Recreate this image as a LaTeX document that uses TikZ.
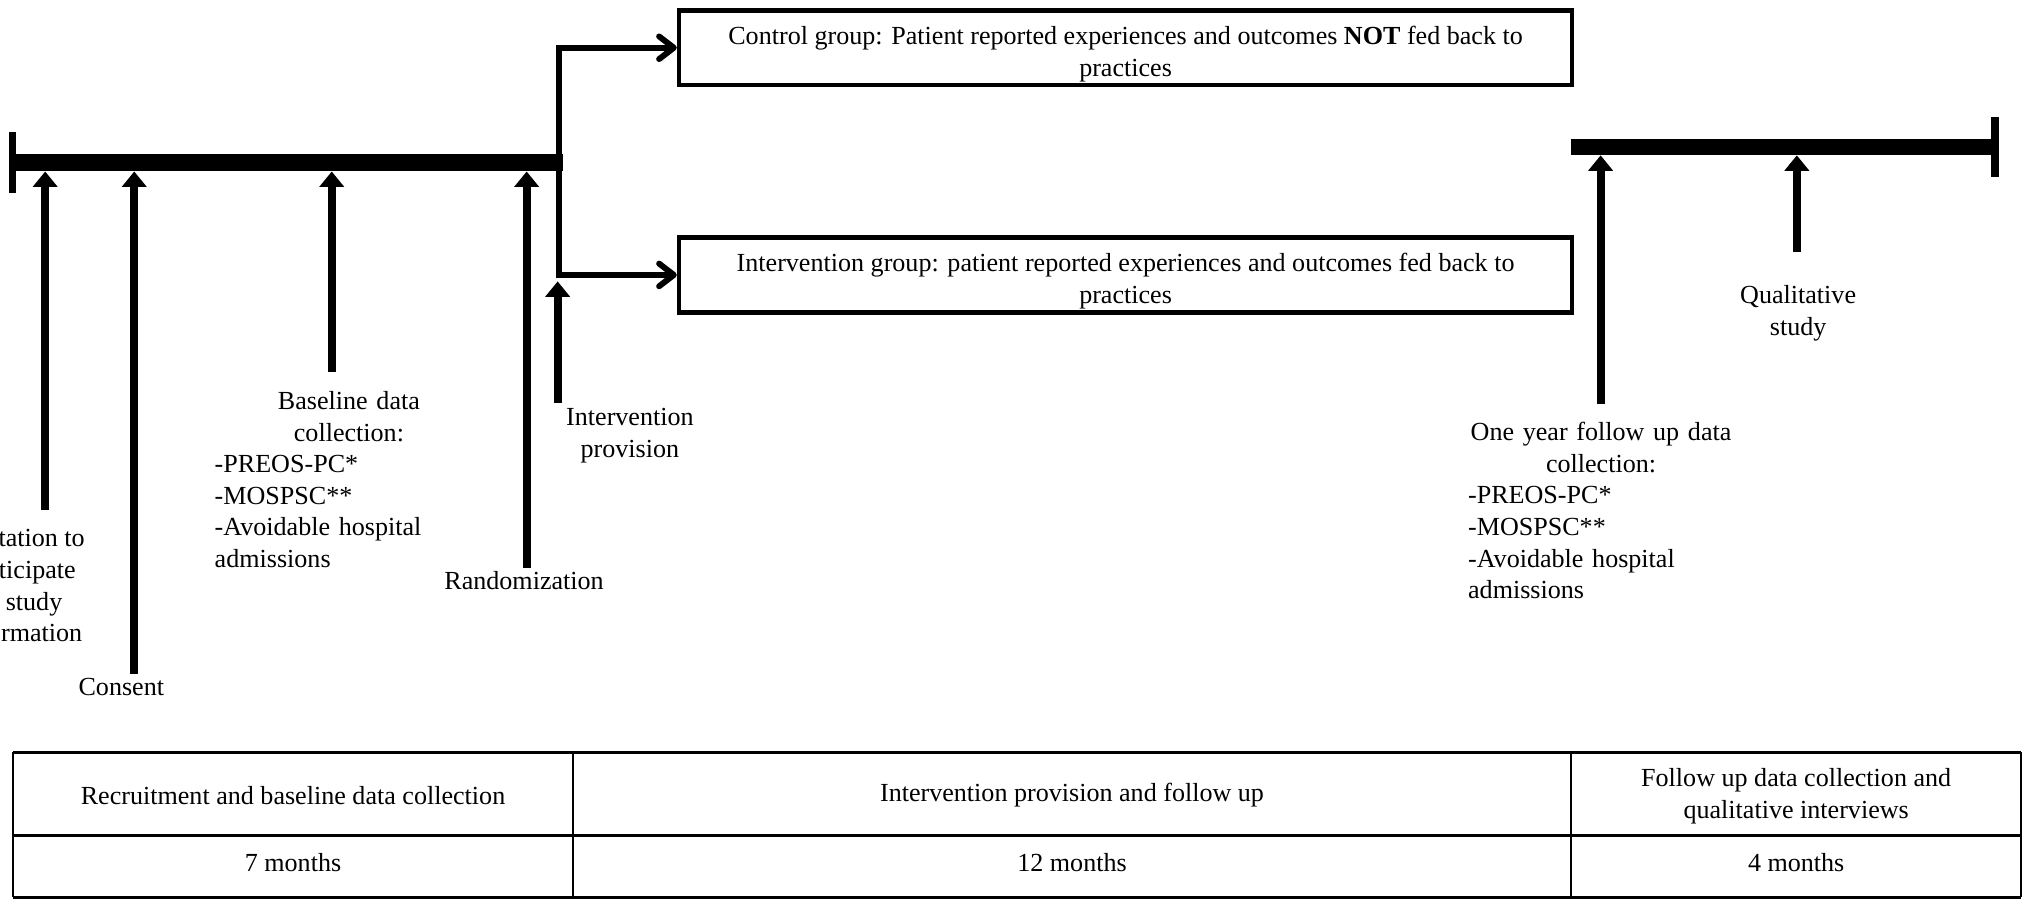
\documentclass[tikz,border=0pt]{standalone}
\usepackage{fontspec}
\setmainfont{Liberation Serif}
\usetikzlibrary{arrows.meta,positioning}

\newcommand{\toppad}{\rule{0pt}{13.5pt}}

\tikzset{
  every node/.style={font=\fontsize{11.5pt}{13.9pt}\selectfont, inner sep=0pt},
  bar/.style={fill=black, minimum height=0.26cm},
  endmark/.style={line width=3.4pt},
  evt/.style={line width=3.5pt, -{Triangle[length=6.8pt,width=10.6pt]}},
  branch/.style={line width=2.6pt, line join=miter, -{Straight Barb[length=6.5pt,width=10pt,round]}},
  grp/.style={draw, line width=2pt, minimum width=13.84cm, minimum height=1.16cm, align=center},
  lbl/.style={align=center},
  lst/.style={text width=4.16cm},
  tbl/.style={line width=1.3pt},
  tblv/.style={line width=0.9pt},
}

\begin{document}
\begin{tikzpicture}[x=0.02cm, y=-0.02cm]
    \useasboundingbox (0,0) rectangle (1568,696);

    % Timelines
    \node[bar, minimum width=8.52cm] (barL) at (223,126) {};
    \node[bar, minimum width=6.62cm, minimum height=0.24cm] (barR) at (1382.5,114) {};
    \draw[endmark] ([yshift=0.47cm]barL.west) -- ([yshift=-0.47cm]barL.west);
    \draw[endmark] ([xshift=-0.06cm,yshift=0.47cm]barR.east) -- ([xshift=-0.06cm,yshift=-0.47cm]barR.east);

    % Groups
    \node[grp] (ctrl) at (872,37) {\toppad Control group: Patient reported experiences and outcomes \textbf{NOT} fed back to\\practices};
    \node[grp] (intv) at (872,213) {\toppad Intervention group: patient reported experiences and outcomes fed back to\\practices};

    \coordinate (split) at (433,126);
    \draw[branch] (split) |- (ctrl.west);
    \draw[branch] (split) |- (intv.west);

    % Labels
    \node[lbl, anchor=north] (inv) at (16,410) {Invitation to\\participate\\in study\\information};
    \node[anchor=base] (cons) at (94,539) {Consent};
    \node[lst, anchor=north west] (bsl) at (166,303) {\centering Baseline data\\collection:\par\raggedright -PREOS-PC*\\-MOSPSC**\\-Avoidable hospital\\admissions};
    \node[anchor=base] (rnd) at (406,457) {Randomization};
    \node[lbl, anchor=north] (ipv) at (488,316) {Intervention\\provision};
    \node[lst, text width=4.12cm, anchor=north west] (fup) at (1137,327) {\centering One year follow up data\\collection:\par\raggedright -PREOS-PC*\\-MOSPSC**\\-Avoidable hospital\\admissions};
    \node[lbl, anchor=north] (qual) at (1393,221) {Qualitative\\study};

    % Arrows to the timelines
    \coordinate (f1) at (35,395);
    \coordinate (f2) at (104,522);
    \coordinate (f3) at (257,288);
    \coordinate (f4) at (408,440);
    \coordinate (f5) at (432,312);
    \coordinate (f6) at (1240,313);
    \coordinate (f7) at (1392,195);
    \draw[evt] (f1) -- (f1 |- barL.south);
    \draw[evt] (f2) -- (f2 |- barL.south);
    \draw[evt] (f3) -- (f3 |- barL.south);
    \draw[evt] (f4) -- (f4 |- barL.south);
    \draw[evt] (f5) -- ([yshift=-0.1cm]f5 |- intv.west);
    \draw[evt] (f6) -- (f6 |- barR.south);
    \draw[evt] (f7) -- (f7 |- barR.south);

    % Table
    \draw[tblv] (10,582.6) -- (10,695) (444,582.6) -- (444,695) (1217,582.6) -- (1217,695) (1566,582.6) -- (1566,695);
    \draw[tbl] (10,582.6) -- (1566,582.6) (10,647) -- (1566,647) (10,695) -- (1566,695);
    \node (t11) at (227,616) {Recruitment and baseline data collection};
    \node (t12) at (830.5,616) {Intervention provision and follow up};
    \node[lbl] (t13) at (1391.5,617) {Follow up data collection and\\qualitative interviews};
    \node (t21) at (227,668) {7 months};
    \node (t22) at (830.5,668) {12 months};
    \node (t23) at (1391.5,668) {4 months};
\end{tikzpicture}
\end{document}
